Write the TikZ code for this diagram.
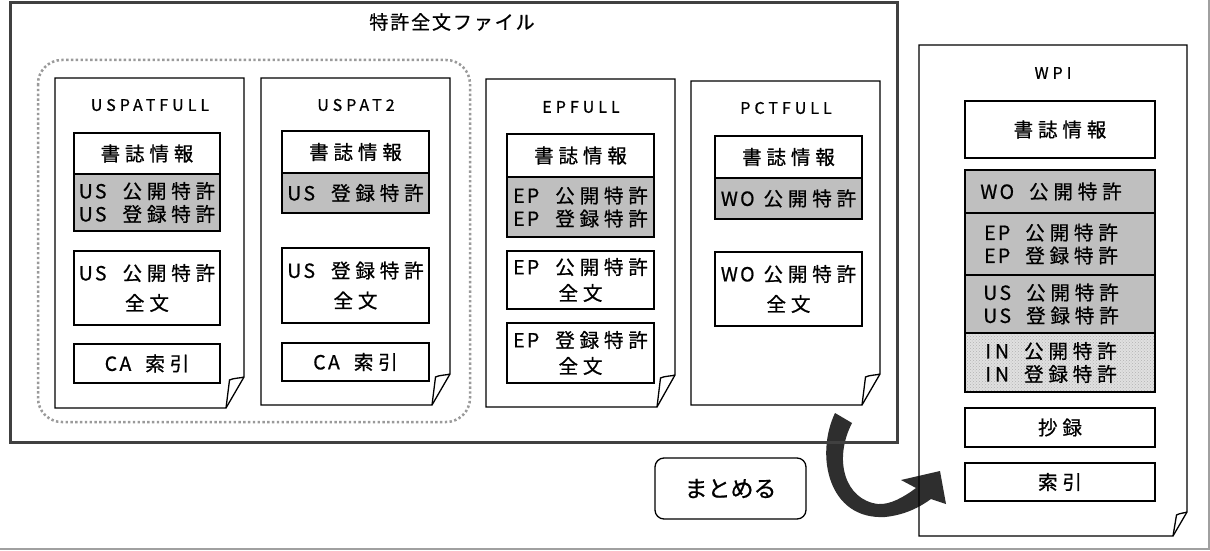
\documentclass[tikz,border=0pt]{standalone}
\usepackage{fontspec}
\setmainfont{Noto Sans CJK JP}
\newfontfamily\jpls[LetterSpace=25,FakeBold=0.7]{Noto Sans CJK JP}
\newfontfamily\jptitle[LetterSpace=10,FakeBold=0.7]{Noto Sans CJK JP}
\newfontfamily\jpbold[FakeBold=0.7]{Noto Sans CJK JP}
\newfontfamily\jplat[LetterSpace=12,FakeBold=0.7]{Noto Sans CJK JP}
\usetikzlibrary{patterns}
\definecolor{framegray}{HTML}{404040}
\definecolor{arrowdark}{HTML}{2E2E2E}
\definecolor{edgegray}{HTML}{A0A0A0}
\definecolor{dotgray}{HTML}{9A9A9A}
% Latin prefix followed by a gap of given width
\newcommand\lpre[2]{{\jplat #1}\hspace{#2}}
\newcommand\rpad{\rule{18pt}{0pt}}
\tikzset{
  every node/.style={inner sep=0pt, outer sep=0pt},
  docline/.style={draw=black, line width=1.3pt, line join=miter},
  tbox/.style={draw=black, line width=1.4pt, align=center,
    font=\jpls\fontsize{19.5}{23}\selectfont},
  gbox/.style={tbox, fill=black!25},
  wbox/.style={tbox, fill=white},
  doctitle/.style={font=\jpls\fontsize{16}{20}\selectfont},
  bigtitle/.style={font=\jptitle\fontsize{19}{22}\selectfont},
}
\newcommand\docpage[6]{%
  \draw[docline] (#1,#2) -- (#3,#2) -- (#3,#4-#6) -- (#3-#5,#4) -- (#1,#4) -- cycle;
  \draw[docline] (#3-#5,#4) -- (#3-#5+3.5,#4-#6+3) .. controls (#3-#5+7,#4-#6+1) and (#3-2,#4-#6+1) .. (#3,#4-#6);
}
\begin{document}
\begin{tikzpicture}[x=1pt,y=-1pt]
\useasboundingbox (0,0) rectangle (1210,551);
\fill[white] (0,0) rectangle (1210,551);
% outer edge lines
\draw[edgegray, line width=2pt] (0,549) -- (1209,549) -- (1209,0);

% curved arrow (drawn first)
\fill[arrowdark] (835,413) .. controls (815,455) and (828,520) .. (885,517)
  .. controls (905,515) and (920,507) .. (931,499) -- (946,504) -- (940,471) -- (901,480)
  -- (916,488) .. controls (904,497) and (890,505) .. (878,504)
  .. controls (845,500) and (833,460) .. (852,423) -- cycle;

% main frame
\draw[framegray, line width=3pt] (10,3) rectangle (897,442);
\node[bigtitle] (ttl) at (452,22) {特許全文ファイル};
% dotted group
\draw[dotgray, line width=2.5pt, dash pattern=on 2.4pt off 2.4pt, rounded corners=24pt] (38,60) rectangle (470,422);

% USPATFULL
\docpage{55}{78}{244}{408}{18}{31}
\node[doctitle] (t1) at (150,105) {USPATFULL};
\node[wbox, minimum width=146, minimum height=41] (a1) at (147,153.5) {書誌情報};
\node[gbox, minimum width=146, minimum height=57] (a2) at (147,202.5) {\lpre{US}{16pt}公開特許\\\lpre{US}{16pt}登録特許};
\node[wbox, minimum width=146, minimum height=74] (a3) at (147,288) {\lpre{US}{16pt}公開特許\\[7pt]全文};
\node[wbox, minimum width=146, minimum height=39] (a4) at (147,363.5) {\lpre{CA}{14pt}索引};

% USPAT2
\docpage{261}{78}{450}{405}{18}{31}
\node[doctitle] (t2) at (356,105) {USPAT2};
\node[wbox, minimum width=147, minimum height=42] (b1) at (355.5,152) {書誌情報};
\node[gbox, minimum width=147, minimum height=40] (b2) at (355.5,193) {\lpre{US}{16pt}登録特許};
\node[wbox, minimum width=147, minimum height=75] (b3) at (355.5,285.5) {\lpre{US}{16pt}登録特許\\[7pt]全文};
\node[wbox, minimum width=147, minimum height=38] (b4) at (355.5,362) {\lpre{CA}{14pt}索引};

% EPFULL
\docpage{486}{79}{675}{407}{18}{32}
\node[doctitle] (t3) at (581,107) {EPFULL};
\node[wbox, minimum width=147, minimum height=43] (c1) at (580.5,155.5) {書誌情報};
\node[gbox, minimum width=147, minimum height=60] (c2) at (580.5,207) {\lpre{EP}{16pt}公開特許\\\lpre{EP}{16pt}登録特許};
\node[wbox, minimum width=147, minimum height=58] (c3) at (580.5,280) {\lpre{EP}{16pt}公開特許\\[3pt]全文};
\node[wbox, minimum width=147, minimum height=60] (c4) at (580.5,353) {\lpre{EP}{16pt}登録特許\\[3pt]全文};

% PCTFULL
\docpage{691}{81}{880}{405}{18}{31}
\node[doctitle] (t4) at (786,108) {PCTFULL};
\node[wbox, minimum width=147, minimum height=42] (d1) at (788.5,157) {書誌情報};
\node[gbox, minimum width=147, minimum height=41] (d2) at (788.5,198.5) {\lpre{WO}{9pt}公開特許};
\node[wbox, minimum width=147, minimum height=74] (d3) at (788.5,289) {\lpre{WO}{9pt}公開特許\\[7pt]全文};

% WPI
\docpage{919}{45}{1187}{536}{14}{24}
\node[doctitle] (t5) at (1053,73) {WPI};
\node[wbox, minimum width=190, minimum height=57] (e1) at (1060,129.5) {書誌情報};
\node[gbox, minimum width=190, minimum height=43] (e2) at (1060,191.5) {\lpre{WO}{15pt}公開特許\rpad};
\node[gbox, minimum width=190, minimum height=62] (e3) at (1060,244) {\lpre{EP}{15pt}公開特許\rpad\\\lpre{EP}{15pt}登録特許\rpad};
\node[gbox, minimum width=190, minimum height=58] (e4) at (1060,304) {\lpre{US}{15pt}公開特許\rpad\\\lpre{US}{15pt}登録特許\rpad};
\fill[black!12] (965,333) rectangle (1155,392);
\fill[pattern=crosshatch dots, pattern color=black!30] (965,333) rectangle (1155,392);
\node[tbox, minimum width=190, minimum height=59] (e5) at (1060,362.5) {\lpre{I\hspace{4pt}N}{15pt}公開特許\rpad\\\lpre{I\hspace{4pt}N}{15pt}登録特許\rpad};
\node[wbox, minimum width=190, minimum height=39] (e6) at (1060,427.5) {抄録};
\node[wbox, minimum width=190, minimum height=38] (e7) at (1060,482) {索引};

% matomeru
\node[draw=black, line width=1.3pt, rounded corners=9pt, fill=white, minimum width=151, minimum height=61,
  font=\jpbold\fontsize{23}{26}\selectfont] (m) at (730.5,488.5) {まとめる};
\end{tikzpicture}
\end{document}
